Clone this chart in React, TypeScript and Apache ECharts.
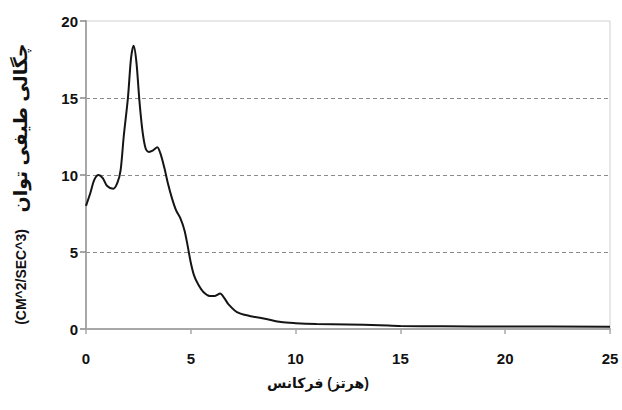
import React, { useEffect, useRef } from "react";
import * as echarts from "echarts";

const freq = [0, 0.2, 0.4, 0.6, 0.8, 1.0, 1.3, 1.5, 1.65, 1.8, 2.0, 2.15, 2.27, 2.4, 2.55, 2.7, 2.85, 3.0, 3.2, 3.4, 3.55, 3.75, 3.9, 4.1, 4.3, 4.5, 4.7, 4.85, 5.0, 5.15, 5.35, 5.6, 5.9, 6.15, 6.4, 6.6, 6.8, 7.2, 7.8, 8.6, 9.3, 10, 11, 12.5, 14, 15, 17, 20, 25];
const psd = [8.0, 8.8, 9.7, 10.0, 9.8, 9.3, 9.1, 9.5, 10.3, 12.5, 15.0, 17.6, 18.4, 17.4, 14.8, 12.8, 11.7, 11.5, 11.6, 11.8, 11.4, 10.4, 9.5, 8.5, 7.7, 7.2, 6.4, 5.4, 4.3, 3.5, 2.9, 2.4, 2.15, 2.15, 2.3, 2.0, 1.6, 1.1, 0.85, 0.65, 0.45, 0.38, 0.33, 0.3, 0.25, 0.2, 0.18, 0.16, 0.15];

const xTitle = "فرکانس\u200E (هرتز)";
const yTitleUnit = "(CM^2/SEC^3)";
const yTitleText = "چگالی طیفی توان";

const FONT = "'Liberation Sans', 'DejaVu Sans', Arial, sans-serif";

export default function App() {
  const ref = useRef<HTMLDivElement>(null);
  useEffect(() => {
    if (!ref.current) return;
    const chart = echarts.init(ref.current, undefined, { renderer: "svg" });
    chart.setOption({
      animation: false,
      backgroundColor: "#ffffff",
      grid: {
        left: 86,
        right: 12,
        top: 21,
        bottom: 81,
        show: true,
        borderColor: "#cfcfcf",
        borderWidth: 1,
        backgroundColor: "transparent",
      },
      xAxis: {
        type: "value",
        min: 0,
        max: 25,
        interval: 5,
        axisLine: { show: true, onZero: false, lineStyle: { color: "#a8a8a8", width: 2 } },
        axisTick: { show: true, inside: false, length: 5, lineStyle: { color: "#a8a8a8", width: 1.5 } },
        axisLabel: { color: "#111", fontSize: 15, fontWeight: "bold", fontFamily: FONT, margin: 22 },
        splitLine: { show: false },
      },
      yAxis: {
        type: "value",
        min: 0,
        max: 20,
        interval: 5,
        axisLine: { show: true, lineStyle: { color: "#a8a8a8", width: 2 } },
        axisTick: { show: true, inside: false, length: 6, lineStyle: { color: "#888", width: 1.5 } },
        axisLabel: { color: "#111", fontSize: 15, fontWeight: "bold", fontFamily: FONT, margin: 8 },
        splitLine: {
          show: true,
          lineStyle: {
            color: ["transparent", "#8a8a8a", "#8a8a8a", "#8a8a8a", "transparent"],
            type: [4, 3],
            width: 1,
          },
        },
      },
      series: [
        {
          type: "line",
          data: freq.map((f, i) => [f, psd[i]]),
          showSymbol: false,
          smooth: 0.3,
          lineStyle: { color: "#151515", width: 2 },
        },
      ],
      graphic: [
        {
          type: "text",
          x: 318,
          y: 383,
          style: {
            text: xTitle,
            fontSize: 14,
            fontWeight: "bold",
            fontFamily: FONT,
            fill: "#111",
            align: "center",
            verticalAlign: "middle",
          },
        },
        {
          type: "text",
          x: 21,
          y: 277,
          rotation: Math.PI / 2,
          style: {
            text: yTitleUnit,
            fontSize: 14,
            fontWeight: "bold",
            fontFamily: FONT,
            fill: "#111",
            align: "center",
            verticalAlign: "middle",
          },
        },
        {
          type: "text",
          x: 20,
          y: 128,
          rotation: Math.PI / 2,
          style: {
            text: yTitleText,
            fontSize: 19,
            fontWeight: "bold",
            fontFamily: FONT,
            fill: "#111",
            align: "center",
            verticalAlign: "middle",
          },
        },
      ],
    });
    return () => chart.dispose();
  }, []);
  return <div ref={ref} style={{ width: 622, height: 410, position: "absolute", left: 0, top: 0 }} />;
}
